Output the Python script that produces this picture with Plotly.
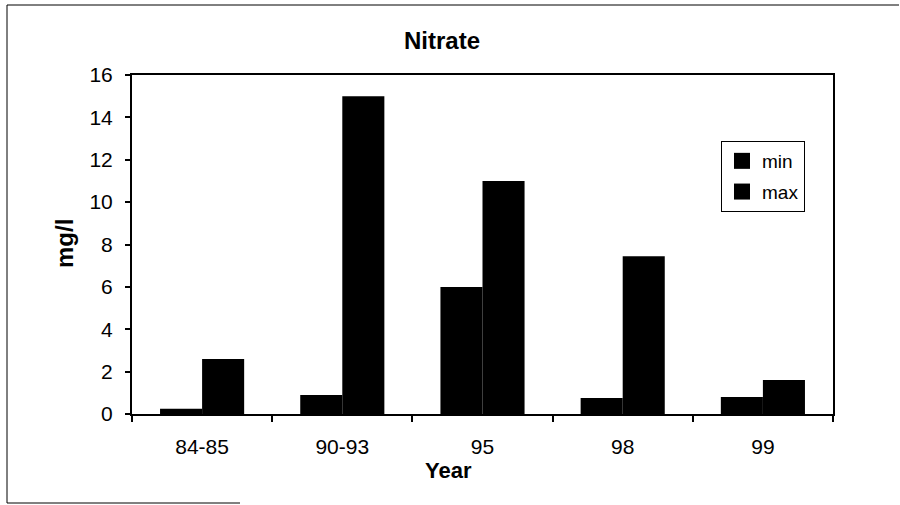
import plotly.graph_objects as go

categories = ["84-85", "90-93", "95", "98", "99"]
min_vals = [0.25, 0.9, 6.0, 0.75, 0.8]
max_vals = [2.6, 15.0, 11.0, 7.45, 1.6]
y_ticks = [0, 2, 4, 6, 8, 10, 12, 14, 16]
series_names = ["min", "max"]

W, H = 900, 505
L, R, T, B = 132, 833, 75, 414

def px(x):
    return (x - L) / (R - L)

def py(y):
    return (B - y) / (B - T)

FONT = "Liberation Sans, Arial, sans-serif"

fig = go.Figure()
for name, vals in zip(series_names, [min_vals, max_vals]):
    fig.add_trace(go.Bar(x=categories, y=vals, name=name, showlegend=False,
                         marker=dict(color="black", line=dict(width=0))))
# legend entries with larger square swatches
for name in series_names:
    fig.add_trace(go.Scatter(x=[None], y=[None], mode="markers", name=name,
                             legendgroup=name,
                             marker=dict(symbol="square", size=16, color="black")))

fig.update_layout(
    width=W, height=H,
    margin=dict(l=L, r=W - R, t=T, b=H - B, autoexpand=False),
    paper_bgcolor="white", plot_bgcolor="white",
    barmode="group", bargap=0.4, bargroupgap=0,
    font=dict(family=FONT, color="black", size=20),
    showlegend=True,
    legend=dict(x=px(721), y=py(141), xanchor="left", yanchor="top",
                bgcolor="white", bordercolor="black", borderwidth=1,
                font=dict(size=19, family=FONT), itemwidth=30,
                tracegroupgap=3),
    title=dict(text="<b>Nitrate</b>", x=px(442), xref="paper", xanchor="center",
               y=1 - 41 / H, yanchor="middle", font=dict(size=24, family=FONT)),
)

fig.update_xaxes(
    showline=True, linecolor="black", linewidth=2, mirror=True,
    ticks="outside", ticklen=6, tickcolor="black", tickwidth=1.5, tickson="boundaries",
    tickfont=dict(size=21, family=FONT), showgrid=False, ticklabelstandoff=13,
)
fig.update_yaxes(
    range=[0, 16], tickvals=y_ticks,
    showline=True, linecolor="black", linewidth=2, mirror=True,
    ticks="outside", ticklen=5, tickcolor="black", tickwidth=1.5,
    tickfont=dict(size=21, family=FONT), showgrid=False, zeroline=False,
    ticklabelstandoff=8,
)

# axis titles
fig.add_annotation(text="<b>mg/l</b>", x=px(64), y=py(244), xref="paper", yref="paper",
                   textangle=-90, showarrow=False, font=dict(size=24, family=FONT),
                   xanchor="center", yanchor="middle")
fig.add_annotation(text="<b>Year</b>", x=px(448), y=py(470), xref="paper", yref="paper",
                   showarrow=False, font=dict(size=22, family=FONT),
                   xanchor="center", yanchor="middle")

# outer frame (partial, as in scan)
fig.add_shape(type="line", xref="paper", yref="paper", x0=px(7), x1=px(7), y0=py(5), y1=py(503),
              line=dict(color="black", width=1))
fig.add_shape(type="line", xref="paper", yref="paper", x0=px(7), x1=px(899), y0=py(5), y1=py(5),
              line=dict(color="black", width=1))
fig.add_shape(type="line", xref="paper", yref="paper", x0=px(7), x1=px(240), y0=py(503), y1=py(503),
              line=dict(color="black", width=1))

fig.write_html("out.html", config={"displayModeBar": False},
               post_script="document.body.style.margin='0';document.body.style.overflow='hidden';")
